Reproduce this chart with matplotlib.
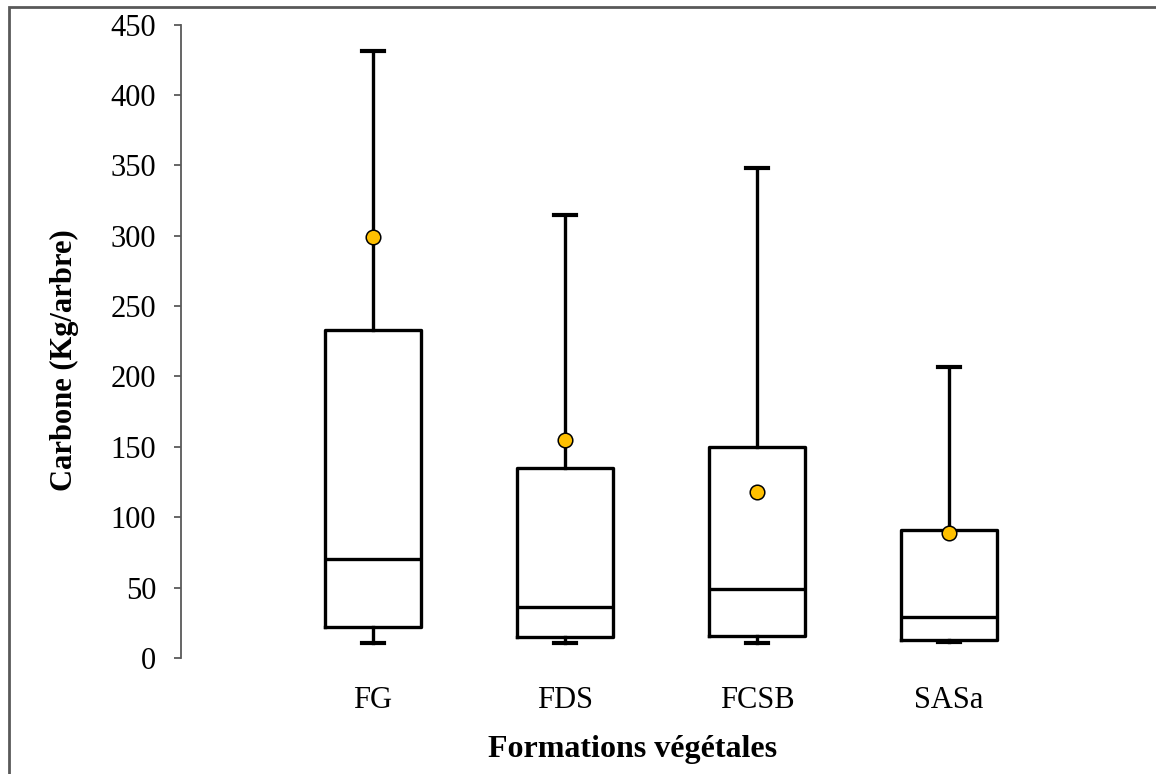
import matplotlib
matplotlib.use("Agg")
import matplotlib.pyplot as plt
from matplotlib.patches import Rectangle

# Box statistics (Kg/arbre)
categories = ["FG", "FDS", "FCSB", "SASa"]
whisker_low = [11, 11, 11, 11.5]
q1 = [22, 15, 15.5, 13]
median = [70, 36, 49, 29]
q3 = [233, 135, 150, 91]
whisker_high = [431, 315, 348, 207]
mean = [299, 155, 118, 89]

plt.rcParams["font.family"] = ["Liberation Serif", "DejaVu Serif"]

fig = plt.figure(figsize=(11.56, 7.74), dpi=100)
ax = fig.add_axes([181 / 1156, 116 / 774, 960 / 1156, 633.5 / 774])

stats = []
for i, name in enumerate(categories):
    stats.append({
        "label": name,
        "whislo": whisker_low[i],
        "q1": q1[i],
        "med": median[i],
        "q3": q3[i],
        "whishi": whisker_high[i],
        "mean": mean[i],
    })

positions = list(range(1, len(categories) + 1))
line = dict(color="black", linewidth=2.4)
ax.bxp(
    stats,
    positions=positions,
    widths=0.505,
    capwidths=0.11,
    showmeans=True,
    showfliers=False,
    boxprops=line,
    medianprops=line,
    whiskerprops=line,
    capprops=dict(color="black", linewidth=3),
    meanprops=dict(marker="o", markerfacecolor="#FFC000", markeredgecolor="black",
                   markeredgewidth=1.1, markersize=10.5),
    zorder=3,
)

ax.set_xlim(0, 5)
ax.set_ylim(0, 450)
ax.set_yticks(range(0, 451, 50))
ax.set_xticks(positions)
ax.set_xticklabels(categories)

for side in ["top", "right", "bottom"]:
    ax.spines[side].set_visible(False)
ax.spines["left"].set_color("#595959")
ax.spines["left"].set_linewidth(1.3)

ax.tick_params(axis="y", length=5, width=1.3, color="#595959", pad=13, labelsize=22)
ax.tick_params(axis="x", length=0, pad=20, labelsize=22)

ax.set_ylabel("Carbone (Kg/arbre)", fontsize=22, fontweight="bold", va="center")
ax.yaxis.set_label_coords((64 - 181) / 960, 0.47)
ax.set_xlabel("Formations végétales", fontsize=23, fontweight="bold", va="center")
ax.xaxis.set_label_coords((633 - 181) / 960, (658 - 749) / 633.5)

# chart-area border (left and top edges visible)
fig.patches.append(Rectangle((8.5 / 1156, -0.1), 1.2, 0.1 + (774 - 7.5) / 774,
                             transform=fig.transFigure, fill=False,
                             edgecolor="#595959", linewidth=2))

fig.savefig("out.png", dpi=100)
